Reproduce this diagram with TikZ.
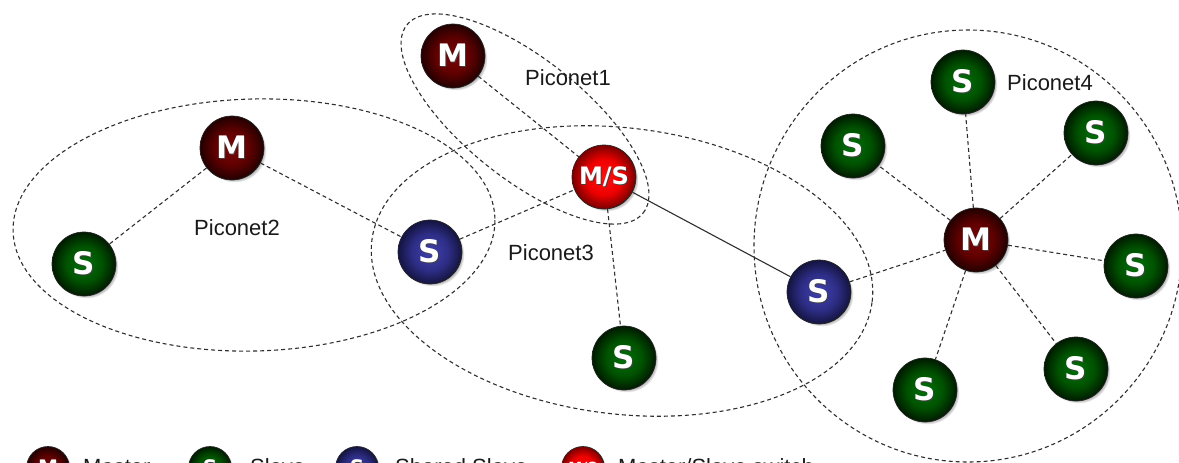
\documentclass[tikz,border=0pt]{standalone}
\usepackage{fontspec}
\setmainfont{Liberation Sans}
\newfontfamily\ballfont{DejaVu Sans}
\usetikzlibrary{shadows}

% ball colours
\definecolor{edgegray}{HTML}{2E2E2E}
\definecolor{mIn}{HTML}{7C0606}
\definecolor{mMid}{HTML}{5E0000}
\definecolor{mOut}{HTML}{220000}
\definecolor{sIn}{HTML}{00700A}
\definecolor{sMid}{HTML}{005200}
\definecolor{sOut}{HTML}{001A00}
\definecolor{hIn}{HTML}{4040AA}
\definecolor{hMid}{HTML}{2E2E88}
\definecolor{hOut}{HTML}{141440}
\definecolor{xIn}{HTML}{FF1010}
\definecolor{xMid}{HTML}{EE0000}
\definecolor{xOut}{HTML}{780000}

\pgfdeclareradialshading{masterball}{\pgfpoint{0bp}{0bp}}{color(0bp)=(mIn); color(14bp)=(mMid); color(25bp)=(mOut); color(50bp)=(mOut)}
\pgfdeclareradialshading{slaveball}{\pgfpoint{0bp}{0bp}}{color(0bp)=(sIn); color(14bp)=(sMid); color(25bp)=(sOut); color(50bp)=(sOut)}
\pgfdeclareradialshading{sharedball}{\pgfpoint{0bp}{0bp}}{color(0bp)=(hIn); color(14bp)=(hMid); color(25bp)=(hOut); color(50bp)=(hOut)}
\pgfdeclareradialshading{switchball}{\pgfpoint{0bp}{0bp}}{color(0bp)=(xIn); color(14bp)=(xMid); color(25bp)=(xOut); color(50bp)=(xOut)}

% white letter with a thin dark offset copy behind it
\newcommand{\balltext}[1]{\makebox[0pt][l]{\hspace{1pt}\raisebox{-1pt}{\color{black!75}#1}}{\color{white}#1}}

\tikzset{
  ball/.style={circle, draw=black!85, line width=0.7pt, minimum size=64pt, inner sep=0pt,
    circular drop shadow={shadow xshift=2.5pt, shadow yshift=-2.5pt, shadow scale=1.0, fill=black!55, opacity=0.7},
    font=\ballfont\bfseries\fontsize{31}{31}\selectfont, shade},
  master/.style={ball, shading=masterball},
  slave/.style={ball, shading=slaveball},
  shared/.style={ball, shading=sharedball},
  switch/.style={ball, shading=switchball, font=\ballfont\bfseries\fontsize{24}{24}\selectfont},
  legendball/.style={minimum size=43pt, font=\ballfont\bfseries\fontsize{20}{20}\selectfont},
  legendswitch/.style={minimum size=43pt, font=\ballfont\bfseries\fontsize{14}{14}\selectfont},
  link/.style={draw=edgegray, line width=1.1pt, dash pattern=on 4pt off 3pt},
  solidlink/.style={draw=edgegray, line width=1.1pt},
  piconet/.style={draw=edgegray, line width=1.1pt, dash pattern=on 4pt off 3pt},
  tag/.style={font=\fontsize{22}{22}\selectfont, text=black!90, inner sep=0pt},
}

\begin{document}
\begin{tikzpicture}[x=1pt, y=-1pt]
\useasboundingbox (0,0) rectangle (1179,463);
\clip (0,0) rectangle (1179,463);

% piconet boundaries
\draw[piconet, rotate around={1.5:(254,225)}] (254,225) ellipse [x radius=241pt, y radius=126pt];
\draw[piconet, rotate around={-7:(622,271)}] (622,271) ellipse [x radius=252pt, y radius=143pt];
\draw[piconet, rotate around={-38.5:(525,119)}] (525,119) ellipse [x radius=151pt, y radius=60pt];
\draw[piconet] (968,246) ellipse [x radius=214pt, y radius=216pt];

% piconet names
\node[tag] (p1) at (568,78) {Piconet1};
\node[tag] (p2) at (237,228) {Piconet2};
\node[tag] (p3) at (551,253) {Piconet3};
\node[tag] (p4) at (1050,83) {Piconet4};

% devices
\node[master] (m1) at (453,56) {\balltext{M}};
\node[switch] (ms) at (604,177) {\balltext{M/S}};
\node[master] (m2) at (232,148) {\balltext{M}};
\node[slave] (sl) at (84,264) {\balltext{S}};
\node[shared] (shl) at (430,252) {\balltext{S}};
\node[slave] (sb) at (624,358) {\balltext{S}};
\node[shared] (shr) at (819,292) {\balltext{S}};
\node[master] (m4) at (976,240) {\balltext{M}};
\node[slave] (s4a) at (963,82) {\balltext{S}};
\node[slave] (s4b) at (853,146) {\balltext{S}};
\node[slave] (s4c) at (1096,133) {\balltext{S}};
\node[slave] (s4d) at (1136,266) {\balltext{S}};
\node[slave] (s4e) at (1076,369) {\balltext{S}};
\node[slave] (s4f) at (925,390) {\balltext{S}};

% links
\draw[link] (m1) -- (ms);
\draw[link] (m2) -- (sl);
\draw[link] (m2) -- (shl);
\draw[link] (shl) -- (ms);
\draw[link] (ms) -- (sb);
\draw[solidlink] (ms) -- (shr);
\draw[link] (shr) -- (m4);
\foreach \s in {s4a,s4b,s4c,s4d,s4e,s4f} \draw[link] (m4) -- (\s);

% legend (its lower part lies below the page edge)
\node[master, legendball] (lgm) at (48,468) {\balltext{M}};
\node[tag, anchor=base west] (lgmt) at (83,474) {Master};
\node[slave, legendball] (lgs) at (210,468) {\balltext{S}};
\node[tag, anchor=base west] (lgst) at (250,474) {Slave};
\node[shared, legendball] (lgh) at (357,468) {\balltext{S}};
\node[tag, anchor=base west] (lght) at (395,474) {Shared Slave};
\node[switch, legendswitch] (lgx) at (583,468) {\balltext{M/S}};
\node[tag, anchor=base west] (lgxt) at (618,474) {Master/Slave switch};
\end{tikzpicture}
\end{document}
